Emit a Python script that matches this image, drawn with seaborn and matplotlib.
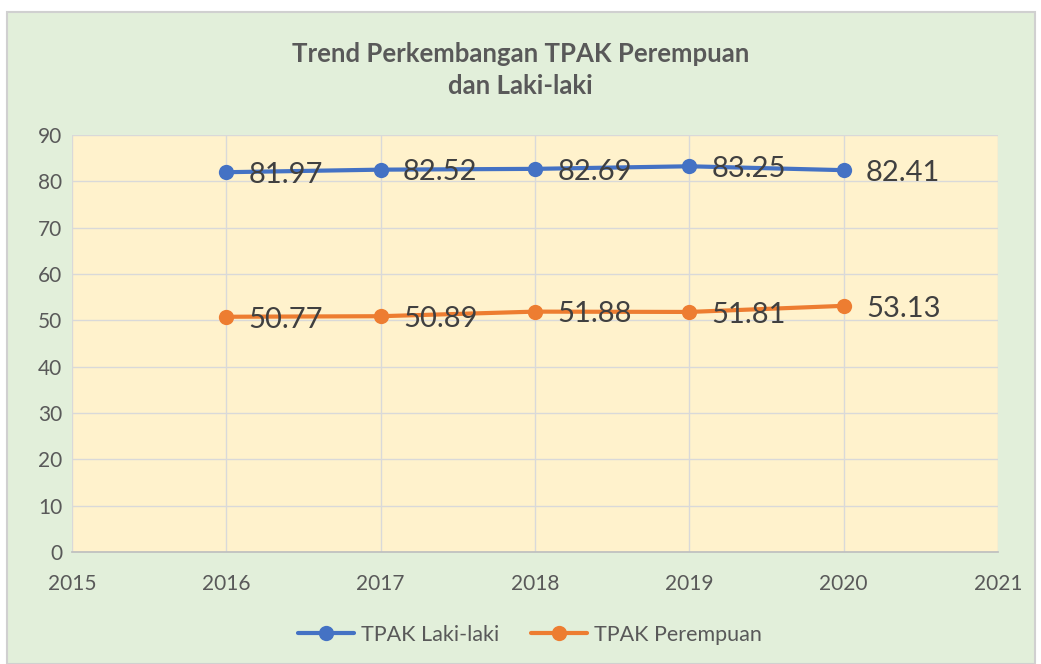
import pandas as pd
import matplotlib.pyplot as plt
import matplotlib.patches as mpatches
import seaborn as sns

years = [2016, 2017, 2018, 2019, 2020]
tpak_laki = [81.97, 82.52, 82.69, 83.25, 82.41]
tpak_perempuan = [50.77, 50.89, 51.88, 51.81, 53.13]
series_names = ['TPAK Laki-laki', 'TPAK Perempuan']

df = pd.DataFrame({
    'tahun': years * 2,
    'nilai': tpak_laki + tpak_perempuan,
    'seri': [series_names[0]] * len(years) + [series_names[1]] * len(years),
})

sns.set_theme(style="whitegrid")
plt.rcParams['font.family'] = ['Lato', 'DejaVu Sans']
text_color = '#595959'

fig = plt.figure(figsize=(10.41, 6.64), dpi=100)
fig.patch.set_facecolor('white')
# green chart area with thin grey border, kept behind the axes
fig.patches.append(mpatches.Rectangle((7 / 1041, 0), 1028 / 1041, 652 / 664,
                                      transform=fig.transFigure, facecolor='#E2EFDA',
                                      edgecolor='#D0D0D0', linewidth=1.5, zorder=-10))

ax = fig.add_axes([72 / 1041, 1 - 552 / 664, 926 / 1041, 417 / 664])
ax.set_zorder(5)
ax.set_facecolor('#FFF2CC')

palette = {series_names[0]: '#4472C4', series_names[1]: '#ED7D31'}
sns.lineplot(data=df, x='tahun', y='nilai', hue='seri', palette=palette, marker='o',
             markersize=11, markeredgewidth=0, linewidth=3, ax=ax, legend=True)

for name, vals in zip(series_names, [tpak_laki, tpak_perempuan]):
    for x, y in zip(years, vals):
        ax.annotate(f'{y:.2f}', (x, y), xytext=(16, -2), textcoords='offset points',
                    ha='left', va='center', fontsize=21, color='#404040')

ax.set_xlim(2015, 2021)
ax.set_ylim(0, 90)
ax.set_xticks(range(2015, 2022))
ax.set_yticks(range(0, 91, 10))
ax.grid(True, color='#D9D9D9', linewidth=1)
for side in ['top', 'right']:
    ax.spines[side].set_visible(False)
ax.spines['left'].set_visible(False)
ax.spines['bottom'].set_color('#BFBFBF')
ax.tick_params(axis='both', colors=text_color, labelsize=15, length=0)
ax.tick_params(axis='x', pad=16)
ax.tick_params(axis='y', pad=7)
ax.set_xlabel('')
ax.set_ylabel('')

fig.text(0.5, 1 - 70 / 664, 'Trend Perkembangan TPAK Perempuan\ndan Laki-laki',
         ha='center', va='center', fontsize=18.5, fontweight='bold', color=text_color,
         linespacing=1.45)

handles, labels = ax.get_legend_handles_labels()
ax.legend(handles, labels, loc='center', bbox_to_anchor=(0.5 + (530 - 535) / 926, (552 - 635) / 417),
          ncol=2, frameon=False, fontsize=15.5, labelcolor=text_color, handlelength=2.6,
          columnspacing=1.5, handletextpad=0.3)

plt.savefig('out.png', dpi=100)
plt.close()
